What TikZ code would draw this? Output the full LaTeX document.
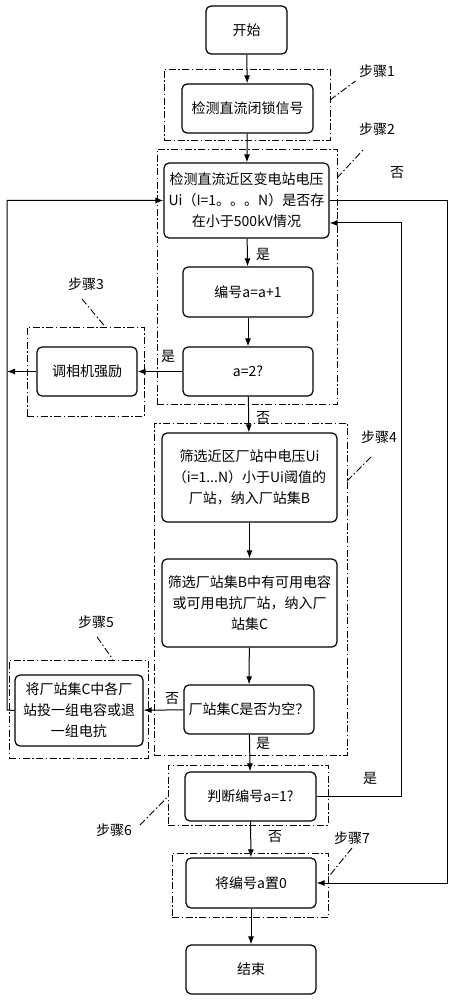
\documentclass[tikz,border=0pt]{standalone}
\usepackage{fontspec}
\setmainfont{Noto Sans CJK SC}
\usetikzlibrary{arrows.meta}
\tikzset{every node/.style={font=\fontsize{14}{21}\selectfont},
flowbox/.style={draw, rounded corners=5pt, line width=1.2pt, align=center, inner sep=0pt},
stepframe/.style={draw, line width=0.9pt, dash pattern=on 7pt off 2.5pt on 1.5pt off 2.5pt, inner sep=0pt},
stepline/.style={line width=0.9pt, dash pattern=on 7pt off 2.5pt on 1.5pt off 2.5pt},
flowarrow/.style={line width=1pt, -{Latex[length=8pt,width=6pt]}}}

\begin{document}
\begin{tikzpicture}[x=1pt,y=-1pt]
\useasboundingbox (0,0) rectangle (452,1000);
\node[stepframe, minimum width=166pt, minimum height=71pt] (frame1) at (247,104.5){};
\node[stepframe, minimum width=180pt, minimum height=255pt] (frame2) at (247,276.5){};
\node[stepframe, minimum width=117pt, minimum height=89pt] (frame3) at (85.5,371.5){};
\node[stepframe, minimum width=193pt, minimum height=332pt] (frame4) at (250.5,589){};
\node[stepframe, minimum width=139pt, minimum height=98pt] (frame5) at (78.5,709){};
\node[stepframe, minimum width=160pt, minimum height=60pt] (frame6) at (248,795){};
\node[stepframe, minimum width=156pt, minimum height=64pt] (frame7) at (250,885){};
\node[flowbox, minimum width=81pt, minimum height=48pt] (node0) at (246.5,30){开始};
\node[flowbox, minimum width=131pt, minimum height=49pt] (node1) at (247.5,108.5){检测直流闭锁信号};
\node[flowbox, minimum width=165pt, minimum height=75pt] (node2) at (246.5,200.5){检测直流近区变电站电压\\Ui（I=1。。。N）是否存\\在小于500kV情况};
\node[flowbox, minimum width=130pt, minimum height=50pt] (node3) at (248,292){编号a=a+1};
\node[flowbox, minimum width=130pt, minimum height=49pt] (node4) at (248,371.5){a=2?};
\node[flowbox, minimum width=100pt, minimum height=49pt] (node40) at (87,371.5){调相机强励};
\node[flowbox, minimum width=175pt, minimum height=89pt] (node5) at (249.5,477.5){筛选近区厂站中电压Ui\\（i=1...N）小于Ui阈值的\\厂站，纳入厂站集B};
\node[flowbox, minimum width=175pt, minimum height=88pt] (node6) at (249.5,603){筛选厂站集B中有可用电容\\或可用电抗厂站，纳入厂\\站集C};
\node[flowbox, minimum width=130pt, minimum height=49pt] (node7) at (249,709.5){厂站集C是否为空？};
\node[flowbox, minimum width=128pt, minimum height=71pt] (node70) at (79,710.5){将厂站集C中各厂\\站投一组电容或退\\一组电抗};
\node[flowbox, minimum width=131pt, minimum height=49pt] (node8) at (250.5,796.5){判断编号a=1?};
\node[flowbox, minimum width=130pt, minimum height=50pt] (node9) at (251,883){将编号a置0};
\node[flowbox, minimum width=130pt, minimum height=49pt] (node10) at (251,969.5){结束};
\node (step1) at (377,71){步骤1};
\node (step2) at (377,129){步骤2};
\node (step3) at (86,284){步骤3};
\node (step4) at (379,437){步骤4};
\node (step5) at (96,622){步骤5};
\node (step6) at (114,830){步骤6};
\node (step7) at (352,838){步骤7};
\node (no1) at (397,173){否};
\node (yes1) at (263,254){是};
\node (yes2) at (168,356){是};
\node (no2) at (263,418){否};
\node (no3) at (172,699){否};
\node (yes3) at (263,743){是};
\node (yes4) at (370,778){是};
\node (no4) at (275,837){否};
\coordinate (lead1) at (330,100);
\coordinate (lead2) at (337,178);
\coordinate (lead3) at (82,299);
\coordinate (lead4) at (347,481);
\coordinate (lead5) at (97,637);
\coordinate (lead6) at (140,825);
\coordinate (lead7) at (352,848);
\coordinate (left) at (7,710);
\coordinate (right) at (447,200.5);
\coordinate (back) at (401,223);
\draw[stepline] (lead1) -- (step1.south west);
\draw[stepline] (lead2) -- (363,150);
\draw[stepline] (lead3) -- (frame3.north -| 105,0);
\draw[stepline] (lead4) -- (372,456);
\draw[stepline] (lead5) -- (frame5.north -| 113,0);
\draw[stepline] (lead6) -- (frame6.west |- 0,797);
\draw[stepline] (lead7) -- (frame7.east |- 0,877);
\draw[flowarrow] (node0) -- (node1);
\draw[flowarrow] (node1) -- (node2);
\draw[flowarrow] (node2) -- (node3);
\draw[flowarrow] (node3) -- (node4);
\draw[flowarrow] (node4) -- (node40);
\draw[flowarrow] (node4) -- (node5);
\draw[flowarrow] (node5) -- (node6);
\draw[flowarrow] (node6) -- (node7);
\draw[flowarrow] (node7) -- (node70);
\draw[flowarrow] (node7) -- (node8);
\draw[flowarrow] (node8) -- (node9);
\draw[flowarrow] (node9) -- (node10);
\draw[flowarrow] (node40.west) -- (node40.west -| left);
\draw[flowarrow] (node70.west) -- (left) |- (node2.west);
\draw[flowarrow] (node2.east) -- (right) |- (node9.east);
\draw[flowarrow] (node8.east) -| (back) -- ([yshift=-22.5pt]node2.east);
\end{tikzpicture}
\end{document}
